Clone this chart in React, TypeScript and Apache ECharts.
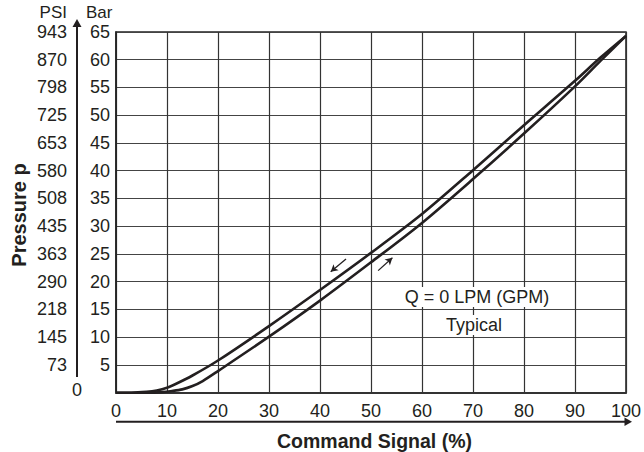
import React, { useEffect, useRef } from "react";
import * as echarts from "echarts";

const upperX = [0, 3, 6, 8, 10, 12, 15, 20, 30, 40, 50, 60, 70, 80, 90, 95, 100];
const upperY = [0, 0, 0.15, 0.4, 0.9, 1.7, 3.1, 5.8, 12.0, 18.5, 25.2, 32.2, 40.1, 48.2, 56.2, 60.4, 64.3];
const lowerX = [0, 6, 9, 11, 13, 15, 17, 20, 30, 40, 50, 60, 70, 80, 90, 95, 100];
const lowerY = [0, 0, 0.1, 0.3, 0.6, 1.2, 2.1, 3.9, 10.1, 16.6, 23.5, 30.6, 38.5, 46.7, 55.2, 59.8, 64.3];
const barTicks = ["", "5", "10", "15", "20", "25", "30", "35", "40", "45", "50", "55", "60", "65"];
const psiTicks = ["", "73", "145", "218", "290", "363", "435", "508", "580", "653", "725", "798", "870", "943"];
const arrowDown = [[45.1, 24.1], [42.1, 21.8]];
const arrowUp = [[51.4, 22.0], [54.2, 24.3]];

const FONT = "'Liberation Sans', Arial, Helvetica, sans-serif";
const INK = "#231f20";

export default function App() {
  const ref = useRef<HTMLDivElement>(null);
  useEffect(() => {
    const chart = echarts.init(ref.current!, null, { renderer: "svg" });
    const pair = (xs: number[], ys: number[]) => xs.map((x, i) => [x, ys[i]]);
    chart.setOption({
      animation: false,
      textStyle: { fontFamily: FONT },
      grid: { left: 116, top: 32, width: 512, height: 360.7, show: true, borderColor: "#222", borderWidth: 1.5 },
      xAxis: {
        type: "value", min: 0, max: 100, interval: 10,
        axisLine: { show: true, lineStyle: { color: "#333", width: 2 } },
        axisTick: { show: false },
        splitLine: { show: true, lineStyle: { color: "#333", width: 1.2 } },
        axisLabel: { fontSize: 18, color: INK, margin: 9, fontFamily: FONT },
      },
      yAxis: [
        {
          type: "value", min: 0, max: 65, interval: 5, position: "left",
          axisLine: { show: true, lineStyle: { color: "#222", width: 1.5 } },
          axisTick: { show: false },
          splitLine: { show: true, lineStyle: { color: "#444", width: 1.2 } },
          axisLabel: { fontSize: 18, color: INK, margin: 6, fontFamily: FONT, formatter: (v: number) => barTicks[Math.round(v / 5)] },
        },
        {
          type: "value", min: 0, max: 65, interval: 5, position: "left", offset: 39,
          axisLine: { show: false }, axisTick: { show: false }, splitLine: { show: false },
          axisLabel: { fontSize: 18, color: INK, margin: 10, fontFamily: FONT, formatter: (v: number) => psiTicks[Math.round(v / 5)] },
        },
      ],
      series: [
        {
          type: "line", data: pair(upperX, upperY), smooth: 0.3, showSymbol: false,
          lineStyle: { color: INK, width: 2.6 }, silent: true,
          markLine: {
            silent: true, symbol: ["none", "arrow"], symbolSize: [6, 7],
            label: { show: false },
            lineStyle: { color: INK, width: 1.3, type: "solid" },
            data: [
              [{ coord: arrowDown[0] }, { coord: arrowDown[1] }],
              [{ coord: arrowUp[0] }, { coord: arrowUp[1] }],
            ],
          },
        },
        {
          type: "line", data: pair(lowerX, lowerY), smooth: 0.3, showSymbol: false,
          lineStyle: { color: INK, width: 2.6 }, silent: true,
        },
      ],
      graphic: [
        { type: "line", shape: { x1: 77, y1: 377, x2: 77, y2: 26 }, style: { stroke: INK, lineWidth: 2 } },
        { type: "polygon", shape: { points: [[77, 19], [72.5, 27], [81.5, 27]] }, style: { fill: INK } },
        { type: "line", shape: { x1: 116, y1: 421.7, x2: 626, y2: 421.7 }, style: { stroke: INK, lineWidth: 2 } },
        { type: "polygon", shape: { points: [[632, 421.7], [624.5, 417.5], [624.5, 425.9]] }, style: { fill: INK } },
        { type: "text", x: 67, y: 12, style: { text: "PSI", fontSize: 17, fontFamily: FONT, fill: INK, textAlign: "right", textVerticalAlign: "middle" } },
        { type: "text", x: 86, y: 12, style: { text: "Bar", fontSize: 17, fontFamily: FONT, fill: INK, textAlign: "left", textVerticalAlign: "middle" } },
        { type: "text", x: 77, y: 390, style: { text: "0", fontSize: 18, fontFamily: FONT, fill: INK, textAlign: "center", textVerticalAlign: "middle" } },
        { type: "text", x: 374.5, y: 441, style: { text: "Command Signal (%)", fontSize: 19.5, fontWeight: "bold", fontFamily: FONT, fill: INK, textAlign: "center", textVerticalAlign: "middle" } },
        { type: "text", x: 19, y: 215, rotation: Math.PI / 2, style: { text: "Pressure p", fontSize: 20, fontWeight: "bold", fontFamily: FONT, fill: INK, textAlign: "center", textVerticalAlign: "middle" } },
        { type: "text", x: 477, y: 297, z: 10, style: { text: "Q = 0 LPM (GPM)", fontSize: 18, fontFamily: FONT, fill: INK, textAlign: "center", textVerticalAlign: "middle", backgroundColor: "#fff", padding: [1, 2] } },
        { type: "text", x: 474, y: 325, z: 10, style: { text: "Typical", fontSize: 18, fontFamily: FONT, fill: INK, textAlign: "center", textVerticalAlign: "middle", backgroundColor: "#fff", padding: [1, 2] } },
      ],
    });
    return () => chart.dispose();
  }, []);
  return <div ref={ref} style={{ position: "fixed", left: 0, top: 0, width: 644, height: 452, background: "#fff" }} />;
}
